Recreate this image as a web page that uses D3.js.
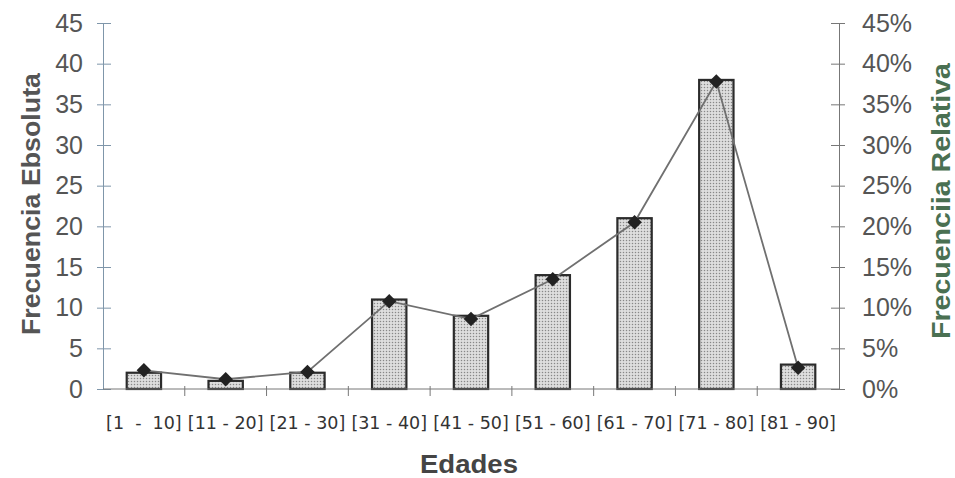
<!DOCTYPE html>
<html>
<head>
<meta charset="utf-8">
<script src="https://cdn.jsdelivr.net/npm/d3@7"></script>
<style>
  body { margin: 0; background: #fff; }
  text { font-family: "Liberation Sans", Arial, sans-serif; }
</style>
</head>
<body>
<svg id="chart"></svg>
<script>
// data
const categories = ["[1  -  10]", "[11 - 20]", "[21 - 30]", "[31 - 40]", "[41 - 50]",
                    "[51 - 60]", "[61 - 70]", "[71 - 80]", "[81 - 90]"];
const absFreq = [2, 1, 2, 11, 9, 14, 21, 38, 3];           // bars, left axis
const relFreq = [2.3, 1.2, 2.1, 10.8, 8.6, 13.5, 20.5, 37.8, 2.6]; // line, right axis (%)
const leftTicks = [0, 5, 10, 15, 20, 25, 30, 35, 40, 45];
const rightTicks = [0, 5, 10, 15, 20, 25, 30, 35, 40, 45];

// sizes
const width = 955;
const height = 478;
const margin = { top: 23, bottom: 89, left: 103, right: 116 };
const plotW = width - margin.left - margin.right;
const plotH = height - margin.top - margin.bottom;

let scaleX = d3.scaleBand().domain(categories).range([0, plotW]).paddingInner(0.58).paddingOuter(0.29);
let bandX = d3.scaleBand().domain(categories).range([0, plotW]);
let scaleY = d3.scaleLinear().domain([0, 45]).range([plotH, 0]);
let scaleYR = d3.scaleLinear().domain([0, 45]).range([plotH, 0]);

let svg = d3.select("#chart")
    .attr("width", width)
    .attr("height", height);

// stippled fill for the bars
let pat = svg.append("defs").append("pattern")
    .attr("id", "dots")
    .attr("width", 3).attr("height", 3)
    .attr("patternUnits", "userSpaceOnUse");
pat.append("rect").attr("width", 3).attr("height", 3).attr("fill", "#dedede");
pat.append("circle").attr("cx", 1.5).attr("cy", 1.5).attr("r", 0.75).attr("fill", "#888");

let g = svg.append("g")
    .attr("transform", "translate(" + margin.left + "," + margin.top + ")");

// left axis
let axisL = g.append("g")
    .call(d3.axisLeft(scaleY).tickValues(leftTicks).tickSizeInner(6).tickSizeOuter(0).tickPadding(14));
axisL.select(".domain").attr("stroke", "#7f96aa");
axisL.selectAll(".tick line").attr("stroke", "#7f96aa").attr("x1", -6).attr("x2", 8);
axisL.selectAll(".tick text").attr("fill", "#555").attr("font-size", 25);

// right axis
let axisR = g.append("g")
    .attr("transform", "translate(" + plotW + ",0)")
    .call(d3.axisRight(scaleYR).tickValues(rightTicks).tickFormat(d => d + "%").tickSizeInner(6).tickSizeOuter(0).tickPadding(17));
axisR.select(".domain").attr("stroke", "#777");
axisR.selectAll(".tick line").attr("stroke", "#777").attr("x1", -8).attr("x2", 6);
axisR.selectAll(".tick text").attr("fill", "#555").attr("font-size", 25);

// bars
g.append("g")
    .selectAll("rect")
    .data(absFreq)
    .enter()
    .append("rect")
    .attr("x", (d, i) => scaleX(categories[i]))
    .attr("y", d => scaleY(d))
    .attr("width", scaleX.bandwidth())
    .attr("height", d => plotH - scaleY(d))
    .attr("fill", "url(#dots)")
    .attr("stroke", "#2b2b2b")
    .attr("stroke-width", 2.2);

// x axis (baseline + ticks between categories)
let axisX = g.append("g")
    .attr("transform", "translate(0," + plotH + ")");
axisX.append("line").attr("x1", 0).attr("x2", plotW).attr("stroke", "#777");
axisX.selectAll("line.tk")
    .data(categories.slice(1))
    .enter()
    .append("line")
    .attr("class", "tk")
    .attr("x1", d => bandX(d)).attr("x2", d => bandX(d))
    .attr("y1", -3).attr("y2", 7)
    .attr("stroke", "#777");
axisX.selectAll("text")
    .data(categories)
    .enter()
    .append("text")
    .attr("x", d => bandX(d) + bandX.bandwidth() / 2)
    .attr("y", 40)
    .attr("text-anchor", "middle")
    .attr("font-size", 17.5)
    .attr("fill", "#333")
    .style("font-family", "'DejaVu Sans', sans-serif")
    .style("white-space", "pre")
    .text(d => d);

// relative frequency line
let line = d3.line()
    .x((d, i) => bandX(categories[i]) + bandX.bandwidth() / 2)
    .y(d => scaleYR(d));
g.append("path")
    .datum(relFreq)
    .attr("d", line)
    .attr("fill", "none")
    .attr("stroke", "#707070")
    .attr("stroke-width", 1.8);
g.append("g")
    .selectAll("path")
    .data(relFreq)
    .enter()
    .append("path")
    .attr("transform", (d, i) => "translate(" + (bandX(categories[i]) + bandX.bandwidth() / 2) + "," + scaleYR(d) + ") rotate(45)")
    .attr("d", d3.symbol().type(d3.symbolSquare).size(105))
    .attr("fill", "#222");

// axis titles
svg.append("text")
    .attr("transform", "translate(40,204) rotate(-90)")
    .attr("text-anchor", "middle")
    .attr("font-size", 26)
    .attr("font-weight", "bold")
    .attr("fill", "#555")
    .attr("textLength", 262)
    .attr("lengthAdjust", "spacingAndGlyphs")
    .text("Frecuencia Ebsoluta");

svg.append("text")
    .attr("transform", "translate(950,201) rotate(-90)")
    .attr("text-anchor", "middle")
    .attr("font-size", 25)
    .attr("font-weight", "bold")
    .attr("fill", "#4a7052")
    .attr("textLength", 276)
    .attr("lengthAdjust", "spacingAndGlyphs")
    .text("Frecuenciia Relativa");

svg.append("text")
    .attr("x", 469)
    .attr("y", 473)
    .attr("text-anchor", "middle")
    .attr("font-size", 25)
    .attr("font-weight", "bold")
    .attr("fill", "#444")
    .attr("textLength", 98)
    .attr("lengthAdjust", "spacingAndGlyphs")
    .text("Edades");
</script>
</body>
</html>
